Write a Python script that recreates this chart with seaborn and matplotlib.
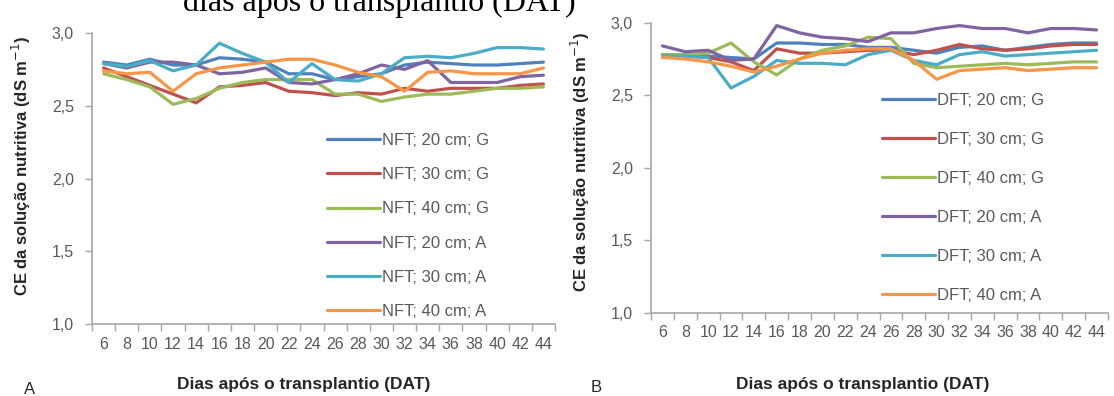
import matplotlib
matplotlib.use("Agg")
import matplotlib.pyplot as plt
import numpy as np
import pandas as pd
import seaborn as sns

# dias apos o transplantio (DAT)
dias = [6, 8, 10, 12, 14, 16, 18, 20, 22, 24, 26, 28, 30, 32, 34, 36, 38, 40, 42, 44]

# CE da solucao nutritiva (dS m-1) - painel A (NFT)
nft_20_g = [2.80, 2.78, 2.82, 2.78, 2.78, 2.83, 2.82, 2.80, 2.72, 2.72, 2.68, 2.70, 2.72, 2.78, 2.80, 2.79, 2.78, 2.78, 2.79, 2.80]
nft_30_g = [2.76, 2.70, 2.64, 2.58, 2.52, 2.63, 2.64, 2.66, 2.60, 2.59, 2.57, 2.59, 2.58, 2.62, 2.60, 2.62, 2.62, 2.62, 2.64, 2.65]
nft_40_g = [2.72, 2.68, 2.63, 2.51, 2.55, 2.62, 2.66, 2.68, 2.68, 2.68, 2.58, 2.58, 2.53, 2.56, 2.58, 2.58, 2.60, 2.62, 2.62, 2.63]
nft_20_a = [2.79, 2.76, 2.80, 2.80, 2.78, 2.72, 2.73, 2.76, 2.66, 2.65, 2.68, 2.72, 2.78, 2.75, 2.81, 2.66, 2.66, 2.66, 2.70, 2.71]
nft_30_a = [2.79, 2.77, 2.81, 2.74, 2.78, 2.93, 2.86, 2.80, 2.66, 2.79, 2.68, 2.67, 2.72, 2.83, 2.84, 2.83, 2.86, 2.90, 2.90, 2.89]
nft_40_a = [2.74, 2.72, 2.73, 2.60, 2.72, 2.76, 2.78, 2.80, 2.82, 2.82, 2.78, 2.73, 2.70, 2.60, 2.73, 2.74, 2.72, 2.72, 2.72, 2.76]

# painel B (DFT)
dft_20_g = [2.78, 2.78, 2.77, 2.76, 2.75, 2.86, 2.86, 2.85, 2.85, 2.83, 2.83, 2.81, 2.79, 2.83, 2.84, 2.81, 2.83, 2.85, 2.86, 2.86]
dft_30_g = [2.78, 2.77, 2.76, 2.73, 2.67, 2.82, 2.79, 2.79, 2.80, 2.81, 2.81, 2.78, 2.81, 2.85, 2.82, 2.81, 2.82, 2.84, 2.85, 2.85]
dft_40_g = [2.78, 2.78, 2.79, 2.86, 2.73, 2.64, 2.75, 2.81, 2.84, 2.90, 2.89, 2.72, 2.69, 2.70, 2.71, 2.72, 2.71, 2.72, 2.73, 2.73]
dft_20_a = [2.84, 2.80, 2.81, 2.74, 2.75, 2.98, 2.93, 2.90, 2.89, 2.87, 2.93, 2.93, 2.96, 2.98, 2.96, 2.96, 2.93, 2.96, 2.96, 2.95]
dft_30_a = [2.77, 2.77, 2.76, 2.55, 2.63, 2.74, 2.72, 2.72, 2.71, 2.78, 2.81, 2.74, 2.71, 2.78, 2.80, 2.77, 2.78, 2.79, 2.80, 2.81]
dft_40_a = [2.76, 2.75, 2.73, 2.70, 2.66, 2.70, 2.75, 2.79, 2.81, 2.82, 2.82, 2.74, 2.61, 2.67, 2.68, 2.69, 2.67, 2.68, 2.69, 2.69]

nft_labels = ["NFT; 20 cm; G", "NFT; 30 cm; G", "NFT; 40 cm; G",
              "NFT; 20 cm; A", "NFT; 30 cm; A", "NFT; 40 cm; A"]
dft_labels = ["DFT; 20 cm; G", "DFT; 30 cm; G", "DFT; 40 cm; G",
              "DFT; 20 cm; A", "DFT; 30 cm; A", "DFT; 40 cm; A"]
y_ticks = [1.0, 1.5, 2.0, 2.5, 3.0]
y_ticklabels = ["1,0", "1,5", "2,0", "2,5", "3,0"]

cores = ["#4f81bd", "#c0504d", "#9bbb59", "#8064a2", "#4bacc6", "#f79646"]
cinza = "#595959"
eixo = "#a6a6a6"

sns.set_theme(style="white")
plt.rcParams["font.family"] = ["Liberation Sans", "DejaVu Sans"]

fig = plt.figure(figsize=(11.14, 3.96), dpi=100)
ax_a = fig.add_axes([0.0826, 0.1818, 0.4156, 0.7348])
ax_b = fig.add_axes([0.5844, 0.2096, 0.4102, 0.7331])


def draw_panel(ax, series, labels, leg_xy, leg_spacing):
    frames = [pd.DataFrame({"dat": dias, "ce": vals, "serie": lab})
              for lab, vals in zip(labels, series)]
    df = pd.concat(frames, ignore_index=True)
    sns.lineplot(data=df, x="dat", y="ce", hue="serie", hue_order=labels,
                 palette=cores, linewidth=2.3, ax=ax)

    ax.set_xlim(5, 45)
    ax.set_ylim(1.0, 3.0)
    ax.set_xticks(dias)
    ax.set_xticklabels([str(d) for d in dias])
    ax.set_xticks(np.arange(5, 46, 2), minor=True)
    ax.set_yticks(y_ticks)
    ax.set_yticklabels(y_ticklabels)
    ax.tick_params(axis="x", which="major", length=0, pad=9,
                   labelsize=11.5, labelcolor=cinza)
    ax.tick_params(axis="x", which="minor", length=5, width=1,
                   color=eixo, direction="out", bottom=True)
    ax.tick_params(axis="y", length=5, width=1, color=eixo, direction="out",
                   left=True, pad=8, labelsize=11.5, labelcolor=cinza)
    ax.set_xlabel("")
    ax.set_ylabel("")
    for side in ["top", "right"]:
        ax.spines[side].set_visible(False)
    for side in ["left", "bottom"]:
        ax.spines[side].set_color(eixo)
        ax.spines[side].set_linewidth(1.2)

    handles, labs = ax.get_legend_handles_labels()
    ax.legend(handles, labs, loc="upper left", bbox_to_anchor=leg_xy,
              bbox_transform=fig.transFigure, frameon=False, fontsize=12,
              borderpad=0, borderaxespad=0, handlelength=3.2,
              handletextpad=0.1, labelspacing=leg_spacing,
              labelcolor=cinza)


draw_panel(ax_a, [nft_20_g, nft_30_g, nft_40_g, nft_20_a, nft_30_a, nft_40_a],
           nft_labels, (0.2935, 0.664), 1.15)
draw_panel(ax_b, [dft_20_g, dft_30_g, dft_40_g, dft_20_a, dft_30_a, dft_40_a],
           dft_labels, (0.7917, 0.765), 1.44)

ylabel = "CE da solução nutritiva (dS m$^{-1}$)"
fig.text(21 / 1114, 1 - 166 / 396, ylabel, rotation=90, ha="center",
         va="center", fontsize=12, fontweight="bold", color="#262626")
fig.text(580 / 1114, 1 - 162 / 396, ylabel, rotation=90, ha="center",
         va="center", fontsize=12, fontweight="bold", color="#262626")

xlabel = "Dias após o transplantio (DAT)"
fig.text(304 / 1114, 1 - 385 / 396, xlabel, ha="center", va="center",
         fontsize=12.5, fontweight="bold", color="#262626")
fig.text(863 / 1114, 1 - 384 / 396, xlabel, ha="center", va="center",
         fontsize=12.5, fontweight="bold", color="#262626")

fig.text(30 / 1114, 1 - 389 / 396, "A", ha="center", va="center",
         fontsize=12, color="#262626")
fig.text(596 / 1114, 1 - 387 / 396, "B", ha="center", va="center",
         fontsize=12, color="#262626")

# legenda cortada da figura anterior, no topo
fig.text(183 / 1114, 1 - 11 / 396, "dias após o transplantio (DAT)",
         ha="left", va="baseline", fontsize=23,
         family=["Liberation Serif", "DejaVu Serif"], color="black")

fig.savefig("out.png", dpi=100)
